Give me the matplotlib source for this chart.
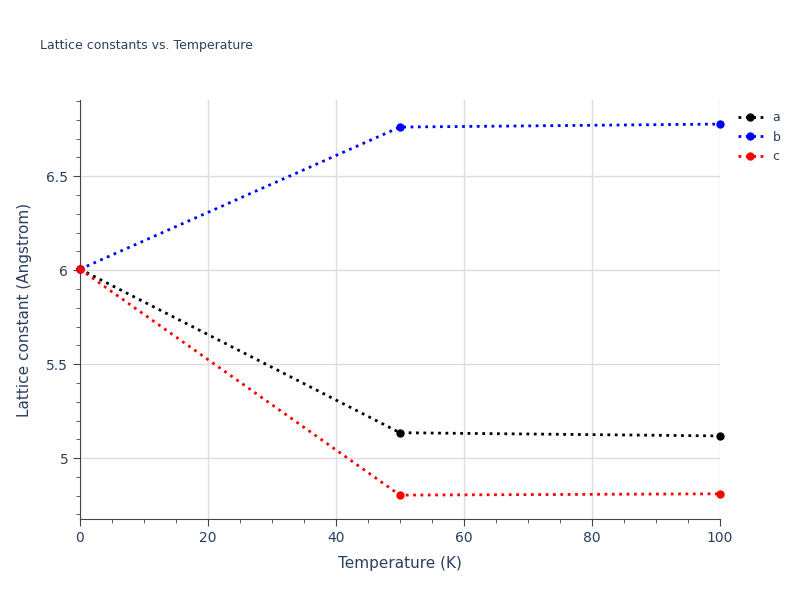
import matplotlib.pyplot as plt
from matplotlib.ticker import MultipleLocator

temperature = [0, 50, 100]
lat_a = [6.005, 5.135, 5.118]
lat_b = [6.005, 6.761, 6.777]
lat_c = [6.005, 4.803, 4.810]

txt = '#2a3f5f'
fig = plt.figure(figsize=(8, 6), dpi=100)
ax = fig.add_axes([0.1, 0.135, 0.8, 0.698])

for vals, col, name in [(lat_a, 'black', 'a'), (lat_b, 'blue', 'b'), (lat_c, 'red', 'c')]:
    ax.plot(temperature, vals, ls=':', lw=2, color=col, marker='o', ms=5, label=name, clip_on=False, zorder=3)

ax.set_xlim(0, 100)
ax.set_ylim(4.676, 6.904)
ax.xaxis.set_major_locator(MultipleLocator(20))
ax.xaxis.set_minor_locator(MultipleLocator(5))
ax.yaxis.set_major_locator(MultipleLocator(0.5))
ax.yaxis.set_minor_locator(MultipleLocator(0.1))
ax.set_yticks([5, 5.5, 6, 6.5])
ax.set_yticklabels(['5', '5.5', '6', '6.5'])
ax.grid(True, which='major', color='#dddddd', lw=1)
ax.set_axisbelow(True)
for s in ['top', 'right']:
    ax.spines[s].set_visible(False)
for s in ['left', 'bottom']:
    ax.spines[s].set_color('#444444')
ax.tick_params(which='both', colors='#444444', labelcolor=txt, labelsize=10, direction='out')
ax.tick_params(which='major', length=5)
ax.tick_params(which='minor', length=3)

ax.set_xlabel('Temperature (K)', color=txt, fontsize=11, labelpad=8)
ax.set_ylabel('Lattice constant (Angstrom)', color=txt, fontsize=11, labelpad=10)
fig.text(0.05, 0.925, 'Lattice constants vs. Temperature', color=txt, fontsize=9, va='center')

leg = ax.legend(loc='upper left', bbox_to_anchor=(1.01, 1.0), frameon=False, fontsize=9,
                handlelength=2, labelcolor=txt)

fig.savefig('out.png', dpi=100)
